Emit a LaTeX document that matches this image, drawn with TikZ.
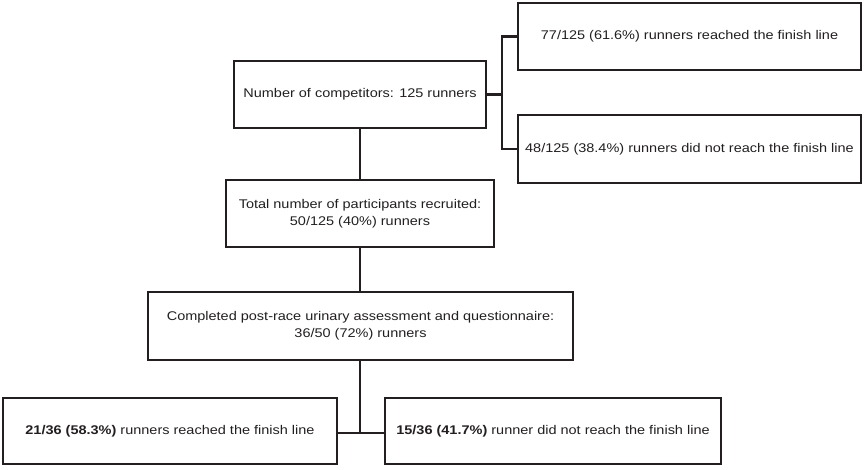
\documentclass[tikz,border=0pt]{standalone}
\usepackage{fontspec}
\setmainfont{Liberation Sans}[FakeStretch=1.15]
\definecolor{ink}{RGB}{35,31,32}
\tikzset{
  flowbox/.style={draw=ink,text=ink,line width=2.2pt,inner sep=2pt,align=center,font=\fontsize{12.6}{17}\selectfont},
  link/.style={draw=ink,line width=2.2pt}
}
\begin{document}
\begin{tikzpicture}[x=1pt,y=-1pt]
	\useasboundingbox (0,0) rectangle (865,469);
	\node[flowbox,minimum width=252pt,minimum height=67pt] (comp) at (360,94.5) {Number of competitors: 125 runners};
	\node[flowbox,minimum width=343pt,minimum height=67pt] (fin) at (689.5,36.5) {77/125 (61.6\%) runners reached the finish line};
	\node[flowbox,minimum width=343pt,minimum height=68pt] (dnf) at (689.5,149) {48/125 (38.4\%) runners did not reach the finish line};
	\node[flowbox,minimum width=268pt,minimum height=67pt] (recr) at (360,213.5) {Total number of participants recruited:\\50/125 (40\%) runners};
	\node[flowbox,minimum width=425pt,minimum height=68pt] (quest) at (360.5,326) {Completed post-race urinary assessment and questionnaire:\\36/50 (72\%) runners};
	\node[flowbox,minimum width=334pt,minimum height=66pt] (fin2) at (170,431) {\textbf{21/36 (58.3\%)} runners reached the finish line};
	\node[flowbox,minimum width=336pt,minimum height=66pt] (dnf2) at (553,431) {\textbf{15/36 (41.7\%)} runner did not reach the finish line};
	\coordinate (split) at (502,94.5);
	\coordinate (join) at (360,433);
	\draw[link] (comp.east)--(split);
	\draw[link] (split) |- (fin.west);
	\draw[link] (split) |- (dnf.west);
	\draw[link] (comp.south)--(recr.north-|comp.south);
	\draw[link] (recr.south-|comp.south)--(quest.north-|comp.south);
	\draw[link] (quest.south-|comp.south)--(join);
	\draw[link] (fin2.east|-join)--(dnf2.west|-join);
\end{tikzpicture}
\end{document}
